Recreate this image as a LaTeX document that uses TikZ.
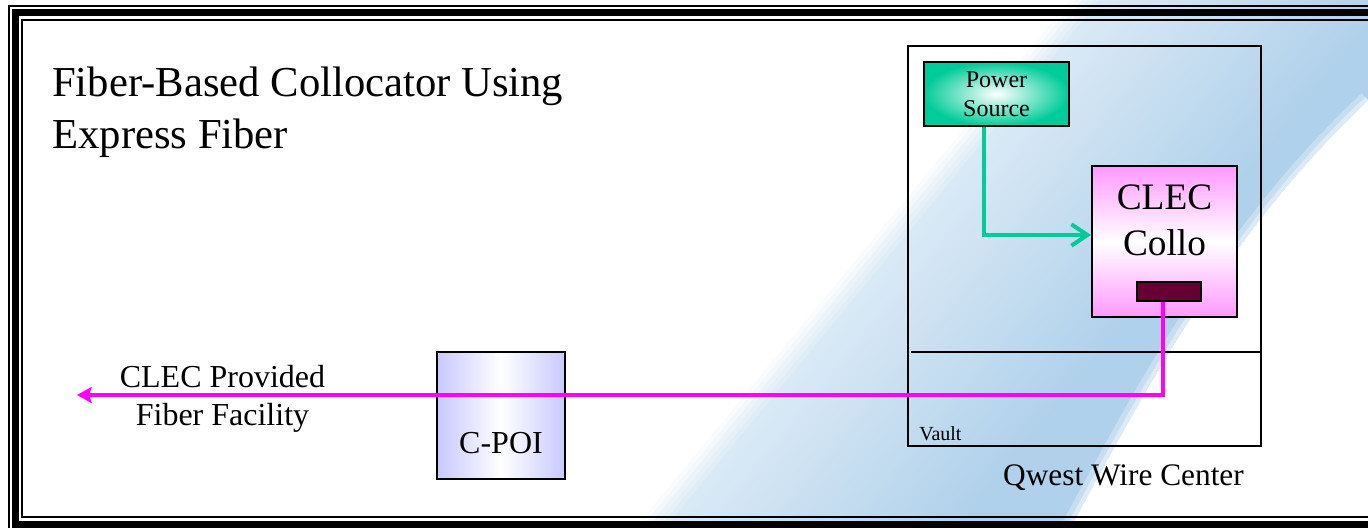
\documentclass[tikz,border=0pt]{standalone}
\usepackage{fontspec}
\setmainfont{Liberation Serif}
\usetikzlibrary{arrows.meta, calc, positioning, shadings}

\definecolor{bandblue}{RGB}{176,209,235}
\definecolor{pwrgreen}{RGB}{0,204,153}
\definecolor{collopink}{RGB}{255,153,255}
\definecolor{poilav}{RGB}{200,200,255}
\definecolor{portred}{RGB}{102,0,51}
\definecolor{fibermag}{RGB}{255,0,255}

\tikzset{
    wh/.style 2 args={minimum width=#1*0.75pt, minimum height=#2*0.75pt},
    box/.style={draw=black, line width=1.5pt, inner sep=0pt},
    txt/.style={inner sep=0pt, align=center},
    power/.style={draw=pwrgreen, line width=3pt, -{Straight Barb[length=12pt,width=16pt]}},
    fiber/.style={draw=fibermag, line width=3pt, -{Stealth[length=11pt,width=12pt,inset=2pt]}}
}

\begin{document}
\begin{tikzpicture}[x=0.75pt, y=-0.75pt]
        \useasboundingbox (0,0) rectangle (1368,528);

        % blue swoosh behind everything
        \begin{scope}
            \clip (1070,0) -- (635,528) -- (1070,528) .. controls (1150,380) and (1230,230) .. (1368,100) -- (1368,0) -- cycle;
            \foreach \i in {0,...,60} {
                \pgfmathsetmacro\pc{min(100, \i<6 ? 8*(\i+1) : 48+1.1*(\i-6))}
                \fill[bandblue!\pc!white] (1070+6*\i,0) -- (635+6*\i,528) -- (1400,528) -- (1400,0) -- cycle;
            }
        \end{scope}
        \draw[white, line width=14pt, opacity=.3] (1070,528) .. controls (1150,380) and (1230,230) .. (1368,100);
        \draw[white, line width=6pt, opacity=.4] (1070,528) .. controls (1150,380) and (1230,230) .. (1368,100);

        % frame
        \draw[line width=1.5pt] (9,6) rectangle (1400,531);
        \draw[line width=5.25pt] (15.5,12.5) rectangle (1393,524.5);
        \draw[line width=1.5pt] (22,20) rectangle (1386,517);

        \node[txt, anchor=north west, align=left, font=\fontsize{32}{39}\selectfont] (title) at (52,67) {Fiber-Based Collocator Using\\Express Fiber};

        % wire center
        \node[box, wh={353}{400}] (wirectr) at (1084.5,246) {};
        \draw[line width=1.2pt] ($(wirectr.west)+(4,106)$) -- ($(wirectr.east)+(-2,106)$);
        \node[txt, anchor=south west, font=\fontsize{15}{18}\selectfont] (vaultlbl) at ($(wirectr.south west)+(12,-6)$) {Vault};
        \node[txt, anchor=north, font=\fontsize{23.5}{28}\selectfont] (qwestlbl) at ($(wirectr.south)+(39,17)$) {Qwest Wire Center};

        \node[box, wh={145}{64}, shading=radial, inner color=white, outer color=pwrgreen, font=\fontsize{18}{22}\selectfont, align=center] (pwrsrc) at (996.5,94) {Power\\Source};

        \node[box, wh={145}{151}, top color=collopink, bottom color=collopink, middle color=white] (collo) at (1164.5,241.5) {};
        \node[txt, anchor=north, font=\fontsize{28}{34}\selectfont] (collotxt) at ($(collo.north)+(0,20)$) {CLEC\\Collo};
        \node[draw=black, line width=1.2pt, fill=portred, wh={64}{19}] (port) at (1169,291.5) {};

        % point of interconnection
        \node[box, wh={128}{127}, left color=poilav, right color=poilav, middle color=white] (cpoi) at (501,415.5) {};
        \node[txt, anchor=north, font=\fontsize{24}{29}\selectfont] (cpoitxt) at ($(cpoi.north)+(0,81)$) {C-POI};

        \node[txt, anchor=north, font=\fontsize{24}{28.5}\selectfont] (fiberlbl) at (222.5,365) {CLEC Provided\\Fiber Facility};
        \coordinate (fiberend) at (77,395);

        \draw[power] ($(pwrsrc.south)+(-12.5,0)$) |- ($(collo.west)+(0,-6.5)$);
        \draw[fiber] ($(port.south)+(-6,0)$) |- (fiberend);

\end{tikzpicture}
\end{document}
